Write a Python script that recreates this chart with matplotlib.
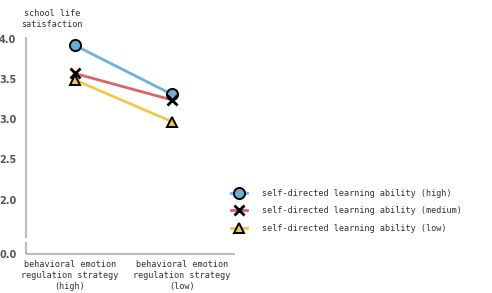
import matplotlib.pyplot as plt
from matplotlib.lines import Line2D

# data
groups = ["behavioral emotion\nregulation strategy\n(high)",
          "behavioral emotion\nregulation strategy\n(low)"]
sdl_high = [3.92, 3.31]
sdl_medium = [3.57, 3.24]
sdl_low = [3.49, 2.97]
series_names = ["self-directed learning ability (high)",
                "self-directed learning ability (medium)",
                "self-directed learning ability (low)"]
y_ticks = [2.0, 2.5, 3.0, 3.5, 4.0]

# broken axis: 0.0 drawn just below 2.0
ZERO_POS = 1.325

colors = ["#6cb2dc", "#d9646e", "#f0c84c"]
marker_fill = ["#6aaed8", "black", "#f0c84c"]
markers = ["o", "x", "^"]

plt.rcParams['font.family'] = ['DejaVu Sans Mono']

fig = plt.figure(figsize=(4.92, 2.93), dpi=100)
ax = fig.add_axes([0.053, 0.133, 0.425, 0.74])

xs = [0, 1]
all_series = [sdl_high, sdl_medium, sdl_low]
for i in range(3):
    ax.plot(xs, all_series[i], color=colors[i], lw=2.0, zorder=2)
    if markers[i] == "x":
        ax.plot(xs, all_series[i], ls="none", marker="x", ms=6.5,
                mew=2.0, color="black", zorder=3)
    else:
        ax.plot(xs, all_series[i], ls="none", marker=markers[i],
                ms=8 if markers[i] == "o" else 6.5,
                mfc=marker_fill[i], mec="black", mew=1.4, zorder=3)

ax.set_xlim(-0.5, 1.65)
ax.set_ylim(ZERO_POS, 4.02)

for s in ax.spines.values():
    s.set_visible(False)

axis_color = "#bbbbbb"
# y axis with a small gap (axis break)
ax.plot([-0.5, -0.5], [ZERO_POS, 1.48], color=axis_color, lw=1.5,
        clip_on=False, solid_capstyle="butt")
ax.plot([-0.5, -0.5], [1.53, 4.02], color=axis_color, lw=1.5,
        clip_on=False, solid_capstyle="butt")
ax.plot([-0.5, 1.65], [ZERO_POS, ZERO_POS], color=axis_color, lw=1.5,
        clip_on=False, solid_capstyle="butt")

ax.set_yticks([ZERO_POS] + y_ticks)
ax.set_yticklabels(["0.0"] + ["%.1f" % t for t in y_ticks],
                   fontsize=7, color="#555555", fontweight="bold",
                   family="DejaVu Sans")
ax.tick_params(axis="y", length=0, pad=7)

ax.set_xticks([-0.05, 1.1])
ax.set_xticklabels(groups, fontsize=6.1, color="#333333", linespacing=1.35)
ax.tick_params(axis="x", length=0, pad=4)

fig.text(0.106, 0.9, "school life\nsatisfaction", ha="center", va="bottom",
         fontsize=6.1, color="#333333", linespacing=1.35)

handles = []
for i in range(3):
    if markers[i] == "x":
        h = Line2D([], [], color=colors[i], lw=2.0, marker="x", ms=6.5,
                   mew=2.0, mec="black")
    else:
        h = Line2D([], [], color=colors[i], lw=2.0, marker=markers[i],
                   ms=8 if markers[i] == "o" else 6.5,
                   mfc=marker_fill[i], mec="black", mew=1.4)
    handles.append(h)

fig.legend(handles, series_names, loc="center left",
           bbox_to_anchor=(0.455, 0.28), frameon=False, fontsize=6.1,
           handlelength=1.8, handletextpad=1.8, labelspacing=1.0,
           labelcolor="#333333")

fig.savefig("out.png", dpi=100)
